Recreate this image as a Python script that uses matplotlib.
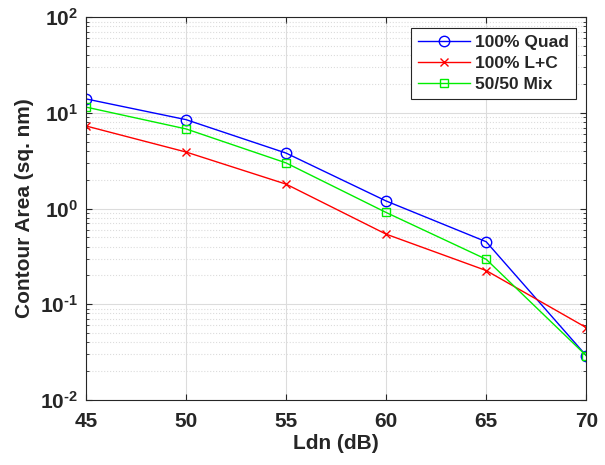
import matplotlib
matplotlib.use("Agg")
import matplotlib.pyplot as plt
from matplotlib.ticker import LogLocator, NullFormatter, FuncFormatter
import numpy as np

# Dane
ldn = [45, 50, 55, 60, 65, 70]
quad = [14.0, 8.5, 3.8, 1.2, 0.45, 0.029]
lc = [7.3, 3.9, 1.8, 0.54, 0.225, 0.057]
mix = [11.5, 6.8, 3.0, 0.91, 0.295, 0.029]

plt.rcParams["font.family"] = ["Liberation Sans", "DejaVu Sans"]
plt.rcParams["font.weight"] = "bold"
plt.rcParams["mathtext.fontset"] = "custom"
plt.rcParams["mathtext.rm"] = "Liberation Sans:bold"
plt.rcParams["mathtext.bf"] = "Liberation Sans:bold"
plt.rcParams["mathtext.it"] = "Liberation Sans:bold"

txt = "#262626"

fig = plt.figure(figsize=(6.05, 4.65), dpi=100)
ax = fig.add_axes([0.142, 0.14, 0.827, 0.823])

ax.semilogy(ldn, quad, color="blue", marker="o", mfc="none", ms=7.5, lw=1, label="100% Quad")
ax.semilogy(ldn, lc, color="red", marker="x", ms=5.5, lw=1, label="100% L+C")
ax.semilogy(ldn, mix, color="#00ee00", marker="s", mfc="none", ms=6, lw=1, label="50/50 Mix")

ax.set_xlim(45, 70)
ax.set_ylim(1e-2, 1e2)
ax.set_xticks(ldn)
ax.yaxis.set_major_locator(LogLocator(base=10, numticks=10))
ax.yaxis.set_minor_locator(LogLocator(base=10, subs=range(2, 10), numticks=10))
ax.yaxis.set_minor_formatter(NullFormatter())
ax.yaxis.set_major_formatter(FuncFormatter(
    lambda v, p: r"$\mathrm{10}^{\text{%d}}$" % int(round(np.log10(v)))))

ax.grid(True, which="major", color="#dcdcdc", linestyle="-", lw=0.8)
ax.grid(True, which="minor", axis="y", color="#dcdcdc", linestyle=":", lw=0.8)
ax.set_axisbelow(True)
ax.tick_params(which="both", direction="in", top=True, right=True, labelsize=15,
               labelcolor=txt, color=txt)
ax.tick_params(which="major", length=4)
ax.tick_params(which="minor", length=2)
ax.tick_params(axis="x", pad=9)
ax.tick_params(axis="y", pad=6)
for s in ax.spines.values():
    s.set_color(txt)

ax.set_xlabel("Ldn (dB)", fontsize=15, fontweight="bold", color=txt, labelpad=2)
ax.set_ylabel("Contour Area (sq. nm)", fontsize=15, fontweight="bold", color=txt)

leg = ax.legend(loc="upper right", fancybox=False, framealpha=1, edgecolor=txt,
                prop={"size": 12.5, "weight": "bold"}, handlelength=3,
                borderaxespad=0.6, handletextpad=0.3, labelspacing=0.35)
leg.get_frame().set_linewidth(0.8)
for t in leg.get_texts():
    t.set_color(txt)

fig.savefig("out.png", dpi=100)
